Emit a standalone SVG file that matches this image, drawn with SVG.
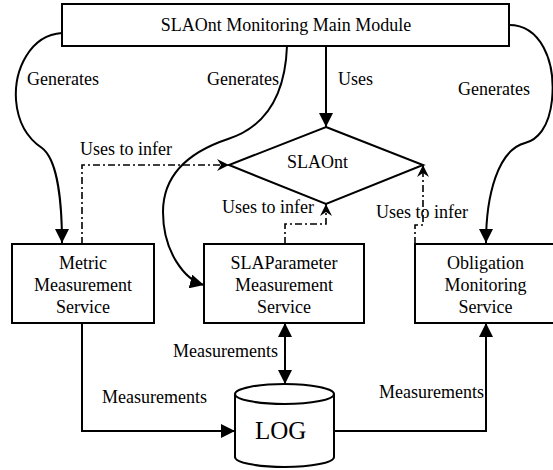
<svg xmlns="http://www.w3.org/2000/svg" width="553" height="470" viewBox="0 0 553 470">
  <style>
    .box { fill: #ffffff; stroke: #000000; stroke-width: 2; }
    .lbl { font-family: "Liberation Serif", "Times New Roman", serif; font-size: 18px; fill: #000000; }
    .mid { text-anchor: middle; }
    .edge { fill: none; stroke: #000000; stroke-width: 2; }
    .infer { fill: none; stroke: #000000; stroke-width: 1.6; stroke-dasharray: 7 3 2 3; }
  </style>
  <defs>
    <marker id="arrow" markerUnits="userSpaceOnUse" markerWidth="14" markerHeight="14" refX="14" refY="7" orient="auto-start-reverse">
      <path d="M0,0 L14,7 L0,14 z" fill="#000000"/>
    </marker>
    <marker id="stealth" markerUnits="userSpaceOnUse" markerWidth="12" markerHeight="12" refX="12" refY="6" orient="auto">
      <path d="M0,0 L12,6 L0,12 L4,6 z" fill="#000000"/>
    </marker>
  </defs>

  <!-- connectors -->
  <g id="connectors">
    <path class="edge" d="M62,33 C30,35 14,70 16,100 C18,125 30,140 42,148 C58,160 62,205 62,243" marker-end="url(#arrow)"/>
    <path class="edge" d="M287,46 C285,100 262,128 228,139 C195,150 163,170 163,212 C163,252 185,280 204,285" marker-end="url(#arrow)"/>
    <path class="edge" d="M509,25 C540,25 556,60 552,100 C549,128 537,140 525,143 C498,150 486,195 486,243" marker-end="url(#arrow)"/>
    <path class="edge" d="M326,46 L326,127" marker-end="url(#arrow)"/>

    <path class="infer" d="M82,244 L82,165 L229,165" marker-end="url(#stealth)"/>
    <path class="infer" d="M285,244 L285,224 L326,224 L326,204" marker-end="url(#stealth)"/>
    <path class="infer" d="M415,244 L415,225 L423,225 L423,165" marker-end="url(#stealth)"/>

    <path class="edge" d="M82,323 L82,431 L235,431" marker-end="url(#arrow)"/>
    <path class="edge" d="M334,431 L486,431 L486,323" marker-end="url(#arrow)"/>
    <path class="edge" d="M285,323 L285,384" marker-start="url(#arrow)" marker-end="url(#arrow)"/>

    <text class="lbl" x="27" y="85">Generates</text>
    <text class="lbl" x="207" y="85">Generates</text>
    <text class="lbl" x="338" y="85">Uses</text>
    <text class="lbl" x="458" y="95">Generates</text>
    <text class="lbl" x="80" y="155">Uses to infer</text>
    <text class="lbl" x="222" y="213">Uses to infer</text>
    <text class="lbl" x="376" y="218">Uses to infer</text>
    <text class="lbl" x="173" y="357">Measurements</text>
    <text class="lbl" x="102" y="403">Measurements</text>
    <text class="lbl" x="379" y="398">Measurements</text>
  </g>

  <!-- main module -->
  <g id="main-module">
    <rect class="box" x="62" y="4" width="447" height="42"/>
    <text class="lbl mid" x="286" y="31">SLAOnt Monitoring Main Module</text>
  </g>

  <!-- ontology -->
  <g id="slaont">
    <polygon class="box" points="326,127 423,165 326,204 229,165"/>
    <text class="lbl" x="287" y="168">SLAOnt</text>
  </g>

  <g id="metric-service">
    <rect class="box" x="12" y="244" width="142" height="79"/>
    <text class="lbl mid" x="83" y="269">Metric</text>
    <text class="lbl mid" x="83" y="291">Measurement</text>
    <text class="lbl mid" x="83" y="313">Service</text>
  </g>

  <g id="slaparameter-service">
    <rect class="box" x="204" y="244" width="160" height="79"/>
    <text class="lbl mid" x="284" y="269">SLAParameter</text>
    <text class="lbl mid" x="284" y="291">Measurement</text>
    <text class="lbl mid" x="284" y="313">Service</text>
  </g>

  <g id="obligation-service">
    <rect class="box" x="415" y="244" width="141" height="79"/>
    <text class="lbl mid" x="485.5" y="269">Obligation</text>
    <text class="lbl mid" x="485.5" y="291">Monitoring</text>
    <text class="lbl mid" x="485.5" y="313">Service</text>
  </g>

  <!-- log store -->
  <g id="log">
    <path class="box" d="M235,394 L235,457 A49.5,10 0 0 0 334,457 L334,394"/>
    <ellipse class="box" cx="284.5" cy="394" rx="49.5" ry="10"/>
    <text class="lbl" x="255" y="439" style="font-size:25px">LOG</text>
  </g>
</svg>
